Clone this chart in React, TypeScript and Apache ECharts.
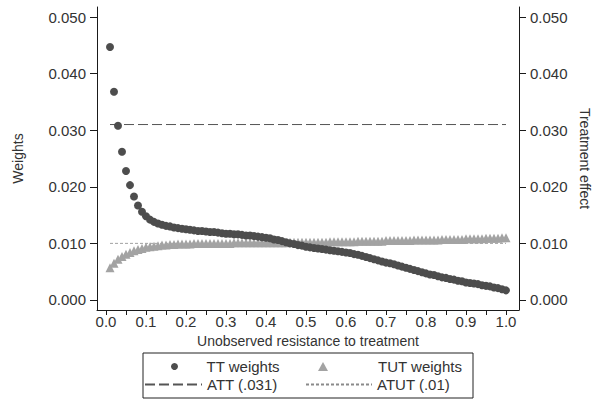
import React, { useEffect, useRef } from "react";
import * as echarts from "echarts";

// x positions (unobserved resistance to treatment)
const X: number[] = [
  0.01, 0.02, 0.03, 0.04, 0.05, 0.06, 0.07, 0.08, 0.09, 0.10,
  0.11, 0.12, 0.13, 0.14, 0.15, 0.16, 0.17, 0.18, 0.19, 0.20,
  0.21, 0.22, 0.23, 0.24, 0.25, 0.26, 0.27, 0.28, 0.29, 0.30,
  0.31, 0.32, 0.33, 0.34, 0.35, 0.36, 0.37, 0.38, 0.39, 0.40,
  0.41, 0.42, 0.43, 0.44, 0.45, 0.46, 0.47, 0.48, 0.49, 0.50,
  0.51, 0.52, 0.53, 0.54, 0.55, 0.56, 0.57, 0.58, 0.59, 0.60,
  0.61, 0.62, 0.63, 0.64, 0.65, 0.66, 0.67, 0.68, 0.69, 0.70,
  0.71, 0.72, 0.73, 0.74, 0.75, 0.76, 0.77, 0.78, 0.79, 0.80,
  0.81, 0.82, 0.83, 0.84, 0.85, 0.86, 0.87, 0.88, 0.89, 0.90,
  0.91, 0.92, 0.93, 0.94, 0.95, 0.96, 0.97, 0.98, 0.99, 1.00,
];

const TT_WEIGHTS: number[] = [
  0.0447, 0.0368, 0.0308, 0.0262, 0.0228, 0.0203, 0.0183, 0.0167, 0.0156, 0.0148,
  0.0142, 0.0138, 0.0135, 0.0133, 0.0131, 0.0130, 0.0128, 0.0127, 0.0126, 0.0125,
  0.0124, 0.0123, 0.0122, 0.0122, 0.0121, 0.0120, 0.0120, 0.0119, 0.0118, 0.0117,
  0.0117, 0.0116, 0.0116, 0.0115, 0.0114, 0.0114, 0.0113, 0.0112, 0.0111, 0.0110,
  0.0109, 0.0107, 0.0106, 0.0104, 0.0102, 0.0100, 0.0099, 0.0097, 0.0096, 0.0094,
  0.0093, 0.0092, 0.0091, 0.0090, 0.0089, 0.0088, 0.0087, 0.0086, 0.0085, 0.0084,
  0.0083, 0.0081, 0.0080, 0.0078, 0.0076, 0.0074, 0.0072, 0.0070, 0.0068, 0.0066,
  0.0065, 0.0063, 0.0061, 0.0059, 0.0057, 0.0055, 0.0053, 0.0051, 0.0049, 0.0047,
  0.0045, 0.0044, 0.0042, 0.0040, 0.0039, 0.0037, 0.0036, 0.0034, 0.0033, 0.0031,
  0.0030, 0.0029, 0.0028, 0.0026, 0.0025, 0.0024, 0.0022, 0.0021, 0.0019, 0.0017,
];

const TUT_WEIGHTS: number[] = [
  0.0057, 0.0065, 0.0072, 0.0077, 0.0081, 0.0084, 0.0087, 0.0089, 0.0091, 0.0093,
  0.0094, 0.0095, 0.0096, 0.0097, 0.0097, 0.0098, 0.0098, 0.0099, 0.0099, 0.0099,
  0.0099, 0.0100, 0.0100, 0.0100, 0.0100, 0.0100, 0.0100, 0.0100, 0.0100, 0.0100,
  0.0100, 0.0101, 0.0101, 0.0101, 0.0101, 0.0101, 0.0101, 0.0101, 0.0101, 0.0101,
  0.0101, 0.0101, 0.0101, 0.0101, 0.0101, 0.0102, 0.0102, 0.0102, 0.0102, 0.0102,
  0.0102, 0.0102, 0.0102, 0.0102, 0.0102, 0.0103, 0.0103, 0.0103, 0.0103, 0.0103,
  0.0103, 0.0103, 0.0104, 0.0104, 0.0104, 0.0104, 0.0104, 0.0104, 0.0104, 0.0105,
  0.0105, 0.0105, 0.0105, 0.0105, 0.0105, 0.0105, 0.0106, 0.0106, 0.0106, 0.0106,
  0.0106, 0.0106, 0.0106, 0.0107, 0.0107, 0.0107, 0.0107, 0.0107, 0.0107, 0.0108,
  0.0108, 0.0108, 0.0108, 0.0108, 0.0109, 0.0109, 0.0109, 0.0109, 0.0110, 0.0110,
];

const ATT = 0.031;
const ATUT = 0.01;

const X_TICKS: number[] = [
  0, 0.05, 0.1, 0.15, 0.2, 0.25, 0.3, 0.35, 0.4, 0.45, 0.5,
  0.55, 0.6, 0.65, 0.7, 0.75, 0.8, 0.85, 0.9, 0.95, 1.0,
];
const X_LABELS: number[] = [0, 0.1, 0.2, 0.3, 0.4, 0.5, 0.6, 0.7, 0.8, 0.9, 1.0];
const Y_TICKS: number[] = [0, 0.01, 0.02, 0.03, 0.04, 0.05];

const FONT = "'Liberation Sans', Arial, sans-serif";
const TEXT = "#333";
const AXIS = "#1a1a1a";
const TRIANGLE_ICON = "path://M5,0L10,9L0,9Z";

export default function App() {
  const ref = useRef<HTMLDivElement>(null);

  useEffect(() => {
    if (!ref.current) return;
    document.body.style.margin = "0";
    const chart = echarts.init(ref.current, null, { renderer: "svg" });

    const yAxisCommon = (pos: "left" | "right", name: string) => ({
      type: "value",
      position: pos,
      min: -0.00177,
      max: 0.05177,
      name,
      nameLocation: "middle",
      nameGap: pos === "left" ? 72 : 54,
      nameRotate: pos === "left" ? 90 : -90,
      nameTextStyle: { fontFamily: FONT, fontSize: 14, color: TEXT },
      axisLine: { show: true, onZero: false, lineStyle: { color: AXIS, width: 1 } },
      axisTick: { show: true, length: 7, customValues: Y_TICKS, lineStyle: { color: AXIS } },
      axisLabel: {
        customValues: Y_TICKS,
        margin: 11,
        fontFamily: FONT,
        fontSize: 15,
        color: TEXT,
        formatter: (v: number) => v.toFixed(3),
      },
      splitLine: { show: false },
    });

    const xy = (xs: number[], ys: number[]) => xs.map((x, i) => [x, ys[i]]);

    const legendCommon = {
      orient: "horizontal",
      padding: 0,
      itemGap: 0,
      symbolKeepAspect: true,
      textStyle: { fontFamily: FONT, fontSize: 15, color: TEXT },
      selectedMode: false,
    };
    const hiddenSymbol = { color: "rgba(0,0,0,0)", borderWidth: 0, opacity: 0 };

    chart.setOption({
      animation: false,
      backgroundColor: "#fff",
      grid: { left: 97, right: 84, top: 7, bottom: 98, containLabel: false },
      xAxis: {
        type: "value",
        min: -0.0225,
        max: 1.0325,
        name: "Unobserved resistance to treatment",
        nameLocation: "middle",
        nameGap: 22,
        nameTextStyle: { fontFamily: FONT, fontSize: 14, color: TEXT },
        axisLine: { show: true, onZero: false, lineStyle: { color: AXIS, width: 1 } },
        axisTick: { show: true, length: 5, customValues: X_TICKS, lineStyle: { color: AXIS } },
        axisLabel: {
          customValues: X_LABELS,
          margin: 4,
          fontFamily: FONT,
          fontSize: 15,
          color: TEXT,
          formatter: (v: number) => v.toFixed(1),
        },
        splitLine: { show: false },
      },
      yAxis: [yAxisCommon("left", "Weights"), yAxisCommon("right", "Treatment effect")],
      legend: [
        { ...legendCommon, left: 171, top: 359, itemWidth: 54, itemHeight: 7, data: ["TT weights"] },
        {
          ...legendCommon, left: 318, top: 359, itemWidth: 100, itemHeight: 9,
          data: [{ name: "TUT weights", icon: TRIANGLE_ICON }],
        },
        {
          ...legendCommon, left: 144, top: 377, itemWidth: 57, itemHeight: 10,
          itemStyle: hiddenSymbol, data: ["ATT (.031)"],
        },
        {
          ...legendCommon, left: 305, top: 377, itemWidth: 66, itemHeight: 10,
          itemStyle: hiddenSymbol, data: ["ATUT (.01)"],
        },
      ],
      graphic: [
        {
          type: "rect",
          shape: { x: 143, y: 353, width: 330, height: 45 },
          style: { fill: "none", stroke: "#222", lineWidth: 1 },
          silent: true,
        },
      ],
      series: [
        {
          name: "ATT (.031)",
          type: "line",
          yAxisIndex: 1,
          data: [[X[0], ATT], [X[X.length - 1], ATT]],
          showSymbol: false,
          symbol: "none",
          lineStyle: { color: "#555", width: 1, type: [10, 4] },
          itemStyle: { color: "#555" },
          z: 1,
        },
        {
          name: "ATUT (.01)",
          type: "line",
          yAxisIndex: 1,
          data: [[X[0], ATUT], [X[X.length - 1], ATUT]],
          showSymbol: false,
          symbol: "none",
          lineStyle: { color: "#8a8a8a", width: 0.8, type: [3, 2] },
          itemStyle: { color: "#8a8a8a" },
          z: 1,
        },
        {
          name: "TT weights",
          type: "scatter",
          yAxisIndex: 0,
          data: xy(X, TT_WEIGHTS),
          symbol: "circle",
          symbolSize: 8,
          itemStyle: { color: "#4d4d4d", opacity: 1 },
          z: 3,
        },
        {
          name: "TUT weights",
          type: "scatter",
          yAxisIndex: 0,
          data: xy(X, TUT_WEIGHTS),
          symbol: "triangle",
          symbolSize: 9,
          itemStyle: { color: "#a3a3a3", opacity: 1 },
          z: 2,
        },
      ],
    });

    return () => chart.dispose();
  }, []);

  return <div ref={ref} style={{ width: 603, height: 408 }} />;
}
